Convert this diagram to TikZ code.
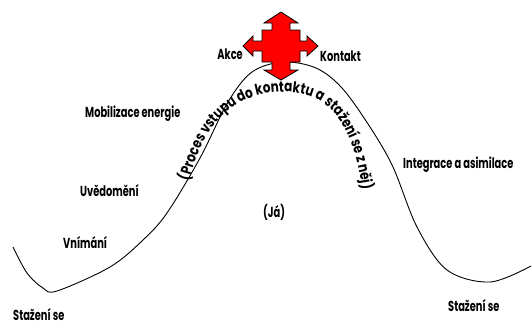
\documentclass[tikz,border=0pt]{standalone}
\usepackage{fontspec}
\setmainfont{Poppins}[FakeStretch=0.68]
\newfontfamily\arcfont{Poppins}[FakeStretch=0.8]
\usetikzlibrary{decorations.text}
\definecolor{crossred}{RGB}{255,0,0}
\tikzset{
  lbl/.style={font=\fontsize{14.5}{16}\selectfont\bfseries, inner sep=0pt},
  wave/.style={draw=black, line width=0.9pt},
  crossfill/.style={fill=crossred, draw=black, line width=0.8pt, line join=miter}
}
\begin{document}
\begin{tikzpicture}[x=1pt,y=-1pt]
  \useasboundingbox (0,0) rectangle (531,325);
  % the wave
  \draw[wave] plot[smooth, tension=0.55] coordinates {
    (13,247) (27,273) (43,288) (57,291) (110,267) (143,240) (167,213)
    (200,158) (228,102) (252,72) (283,62) (316,68) (342,88) (370,127)
    (393,167) (417,227) (447,270) (490,282) (531,266)};
  % red cross on top
  \draw[crossfill] (262,30) -- (272,30) -- (272,23) -- (264,23) -- (281,12)
    -- (298,23) -- (290,23) -- (290,30) -- (300,30) -- (300,41) -- (307,41)
    -- (307,36) -- (318,46) -- (307,56) -- (307,51) -- (300,51) -- (300,62)
    -- (290,62) -- (290,70) -- (298,70) -- (281,80) -- (264,70) -- (272,70)
    -- (272,62) -- (262,62) -- (262,51) -- (253,51) -- (253,56) -- (243,46)
    -- (253,36) -- (253,41) -- (262,41) -- cycle;
  % labels
  \node[lbl, anchor=base east] (akce) at (243,59) {Akce};
  \node[lbl, anchor=base west] (kontakt) at (320,61) {Kontakt};
  \node[lbl, anchor=base west] (mobil) at (85,117) {Mobilizace energie};
  \node[lbl, anchor=base west] (uvedom) at (80,196) {Uvědomění};
  \node[lbl, anchor=base west] (vnim) at (63,248) {Vnímání};
  \node[lbl, anchor=base west] (stazL) at (13,320) {Stažení se};
  \node[lbl, anchor=base west] (integ) at (403,168) {Integrace a asimilace};
  \node[lbl, anchor=base west] (ja) at (263,217) {(Já)};
  \node[lbl, anchor=base west] (stazR) at (448,311) {Stažení se};
  % text along the arc
  \path[decorate, decoration={text along path, text align=fit to path,
      text={|\arcfont\fontsize{15}{17}\selectfont\bfseries|(Proces vstupu do kontaktu a stažení se z něj)}}]
    (189,181) .. controls (207,110) and (245,92) .. (285,92)
    .. controls (325,92) and (352,118) .. (362,188);
\end{tikzpicture}
\end{document}
